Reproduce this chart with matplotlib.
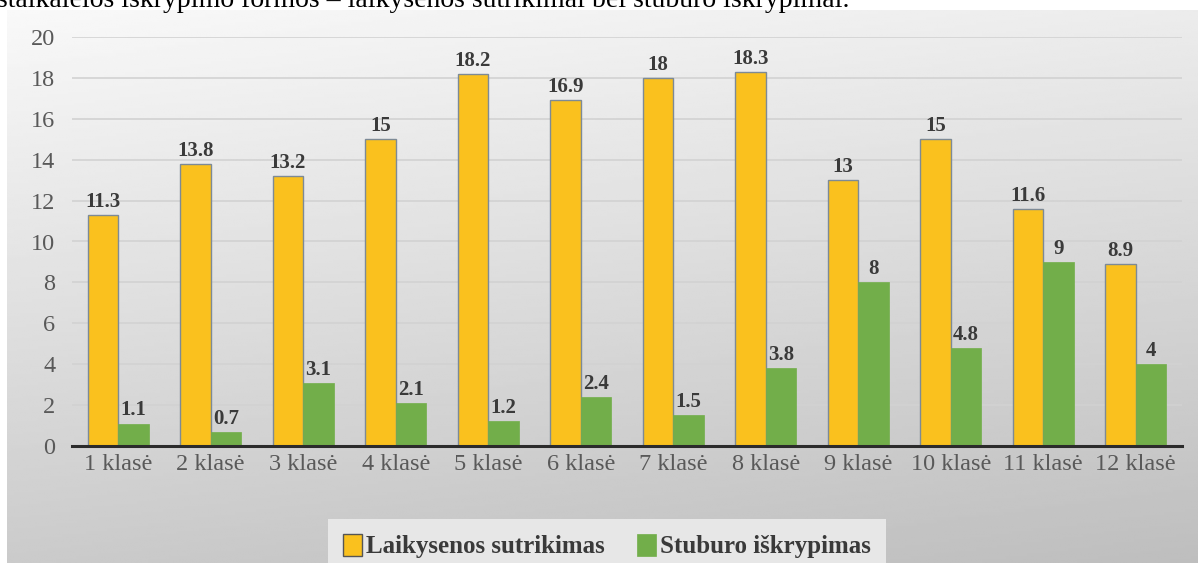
import matplotlib.pyplot as plt
import numpy as np

# duomenys
klases = ["1 klasė", "2 klasė", "3 klasė", "4 klasė", "5 klasė", "6 klasė",
          "7 klasė", "8 klasė", "9 klasė", "10 klasė", "11 klasė", "12 klasė"]
laikysena = [11.3, 13.8, 13.2, 15, 18.2, 16.9, 18, 18.3, 13, 15, 11.6, 8.9]
stuburas = [1.1, 0.7, 3.1, 2.1, 1.2, 2.4, 1.5, 3.8, 8, 4.8, 9, 4]

serif = ["Liberation Serif", "DejaVu Serif"]
plt.rcParams["font.family"] = serif

fig = plt.figure(figsize=(11.98, 5.63), dpi=100)
fig.patch.set_facecolor("white")

# fono gradientas (diagramos sritis)
bg = fig.add_axes([7 / 1198, 0, 1 - 7 / 1198, (563 - 10) / 563])
h, w = np.mgrid[0:1:200j, 0:1:400j]
shade = 0.975 - 0.18 * h - 0.05 * w
bg.imshow(shade, cmap="gray", vmin=0, vmax=1, aspect="auto",
          extent=[0, 1, 1, 0], interpolation="bilinear")
bg.set_axis_off()

# nukirpta teksto eilutė viršuje
fig.text(-3 / 1198, (563 - 7) / 563,
         "stalkaleios iškrypimo formos – laikysenos sutrikimai bei stuburo iškrypimai.",
         fontsize=20, color="black", va="baseline", ha="left")

ax = fig.add_axes([72 / 1198, (563 - 446) / 563, (1182 - 72) / 1198, (446 - 37) / 563])
ax.patch.set_alpha(0)

x = np.arange(len(klases))
bw = 0.33
b1 = ax.bar(x - bw / 2, laikysena, bw, color="#FAC11E", edgecolor="#7d8a96",
            linewidth=1.0, label="Laikysenos sutrikimas", zorder=3)
b2 = ax.bar(x + bw / 2, stuburas, bw, color="#72AE4A", edgecolor="#72AE4A",
            linewidth=0.5, label="Stuburo iškrypimas", zorder=3)

for bars, vals in ((b1, laikysena), (b2, stuburas)):
    for r, v in zip(bars, vals):
        ax.text(r.get_x() + r.get_width() / 2, v + 0.15, f"{v:g}",
                ha="center", va="bottom", fontsize=15, fontweight="bold",
                color="#3a3a3a", zorder=4)

ax.set_xlim(-0.5, len(klases) - 0.5)
ax.set_ylim(0, 20)
ax.set_yticks(np.arange(0, 21, 2))
ax.set_xticks(x)
ax.set_xticklabels(klases)
ax.tick_params(axis="both", length=0, labelsize=17.5, colors="#595959")
ax.tick_params(axis="y", pad=12)
ax.tick_params(axis="x", pad=6)
ax.grid(axis="y", color="#d2d2d2", linewidth=1.2, zorder=0)
for s in ("top", "right", "left"):
    ax.spines[s].set_visible(False)
ax.spines["bottom"].set_color("#2b2b2b")
ax.spines["bottom"].set_linewidth(2.2)
ax.spines["bottom"].set_zorder(5)

leg = fig.legend(handles=[b1, b2], loc="upper center",
                 bbox_to_anchor=(607 / 1198, (563 - 506) / 563), ncol=2,
                 frameon=True, fancybox=False, borderpad=0.6,
                 handlelength=0.75, handleheight=1.0, handletextpad=0.15,
                 columnspacing=1.3,
                 prop={"family": serif, "weight": "bold", "size": 18})
leg.get_frame().set_facecolor("#e7e7e7")
leg.get_frame().set_edgecolor("none")
leg.get_frame().set_alpha(1)
for t in leg.get_texts():
    t.set_color("#3a3a3a")
leg.legend_handles[0].set_edgecolor("#555555")

plt.savefig("out.png", dpi=100)
